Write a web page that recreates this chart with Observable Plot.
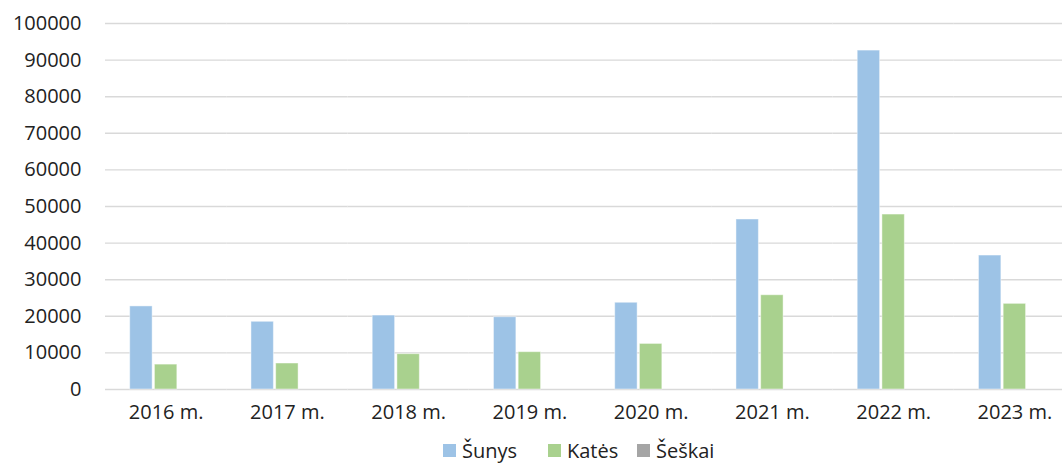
<!DOCTYPE html>
<html>
<head>
<meta charset="utf-8">
<script src="https://cdn.jsdelivr.net/npm/d3@7"></script>
<script src="https://cdn.jsdelivr.net/npm/@observablehq/plot@0.6"></script>
<style>
  html, body { margin: 0; padding: 0; background: #fff; }
  body { font-family: "Open Sans", sans-serif; color: #222; width: 1062px; overflow: hidden; }
  #chart svg { display: block; }
  #legend { position: relative; height: 28px; font-size: 20px; }
  #legend .item { position: absolute; top: 0; height: 28px; display: flex; align-items: center; }
  #legend .sw { width: 13px; height: 13px; margin-right: 6px; }
</style>
</head>
<body>
<div id="chart"></div>
<div id="legend"></div>
<script>
const years = ["2016 m.", "2017 m.", "2018 m.", "2019 m.", "2020 m.", "2021 m.", "2022 m.", "2023 m."];
const seriesNames = ["Šunys", "Katės", "Šeškai"];
const sunys = [22700, 18500, 20200, 19750, 23700, 46450, 92600, 36600];
const kates = [6800, 7100, 9650, 10200, 12450, 25750, 47800, 23400];
const seskai = [0, 0, 0, 0, 0, 0, 0, 0];
const yTicks = [0, 10000, 20000, 30000, 40000, 50000, 60000, 70000, 80000, 90000, 100000];
const colors = ["#9dc3e6", "#a9d18e", "#a5a5a5"];

const seriesValues = [sunys, kates, seskai];
const data = [];
years.forEach((year, i) => {
  seriesNames.forEach((s, j) => data.push({ year, series: s, value: seriesValues[j][i] }));
});

const chart = Plot.plot({
  width: 1062,
  height: 436,
  marginLeft: 105,
  marginRight: -13,
  marginTop: 23,
  marginBottom: 47,
  style: { fontFamily: "Open Sans, sans-serif", fontSize: "20px", color: "#222", background: "#fff" },
  fx: { domain: years, padding: 0, round: false, label: null, axis: "bottom", tickSize: 0, tickPadding: 15 },
  x: { domain: seriesNames, paddingInner: 0.093, paddingOuter: 1.0, round: false, axis: null },
  y: { domain: [0, 100000], ticks: yTicks, tickFormat: d => String(d), label: null, tickSize: 0, tickPadding: 24 },
  color: { domain: seriesNames, range: colors },
  marks: [
    Plot.ruleY(yTicks, { stroke: "#d9d9d9", strokeWidth: 1.4 }),
    Plot.barY(data, { fx: "year", x: "series", y: "value", fill: "series", stroke: "#fff", strokeOpacity: 0.45, strokeWidth: 1 })
  ]
});
document.getElementById("chart").appendChild(chart);

const legend = document.getElementById("legend");
const legendLeft = [443, 548, 637];
seriesNames.forEach((s, j) => {
  const it = document.createElement("div");
  it.className = "item";
  it.style.left = legendLeft[j] + "px";
  const sw = document.createElement("span");
  sw.className = "sw";
  sw.style.background = colors[j];
  const tx = document.createElement("span");
  tx.textContent = s;
  it.appendChild(sw);
  it.appendChild(tx);
  legend.appendChild(it);
});
</script>
</body>
</html>
